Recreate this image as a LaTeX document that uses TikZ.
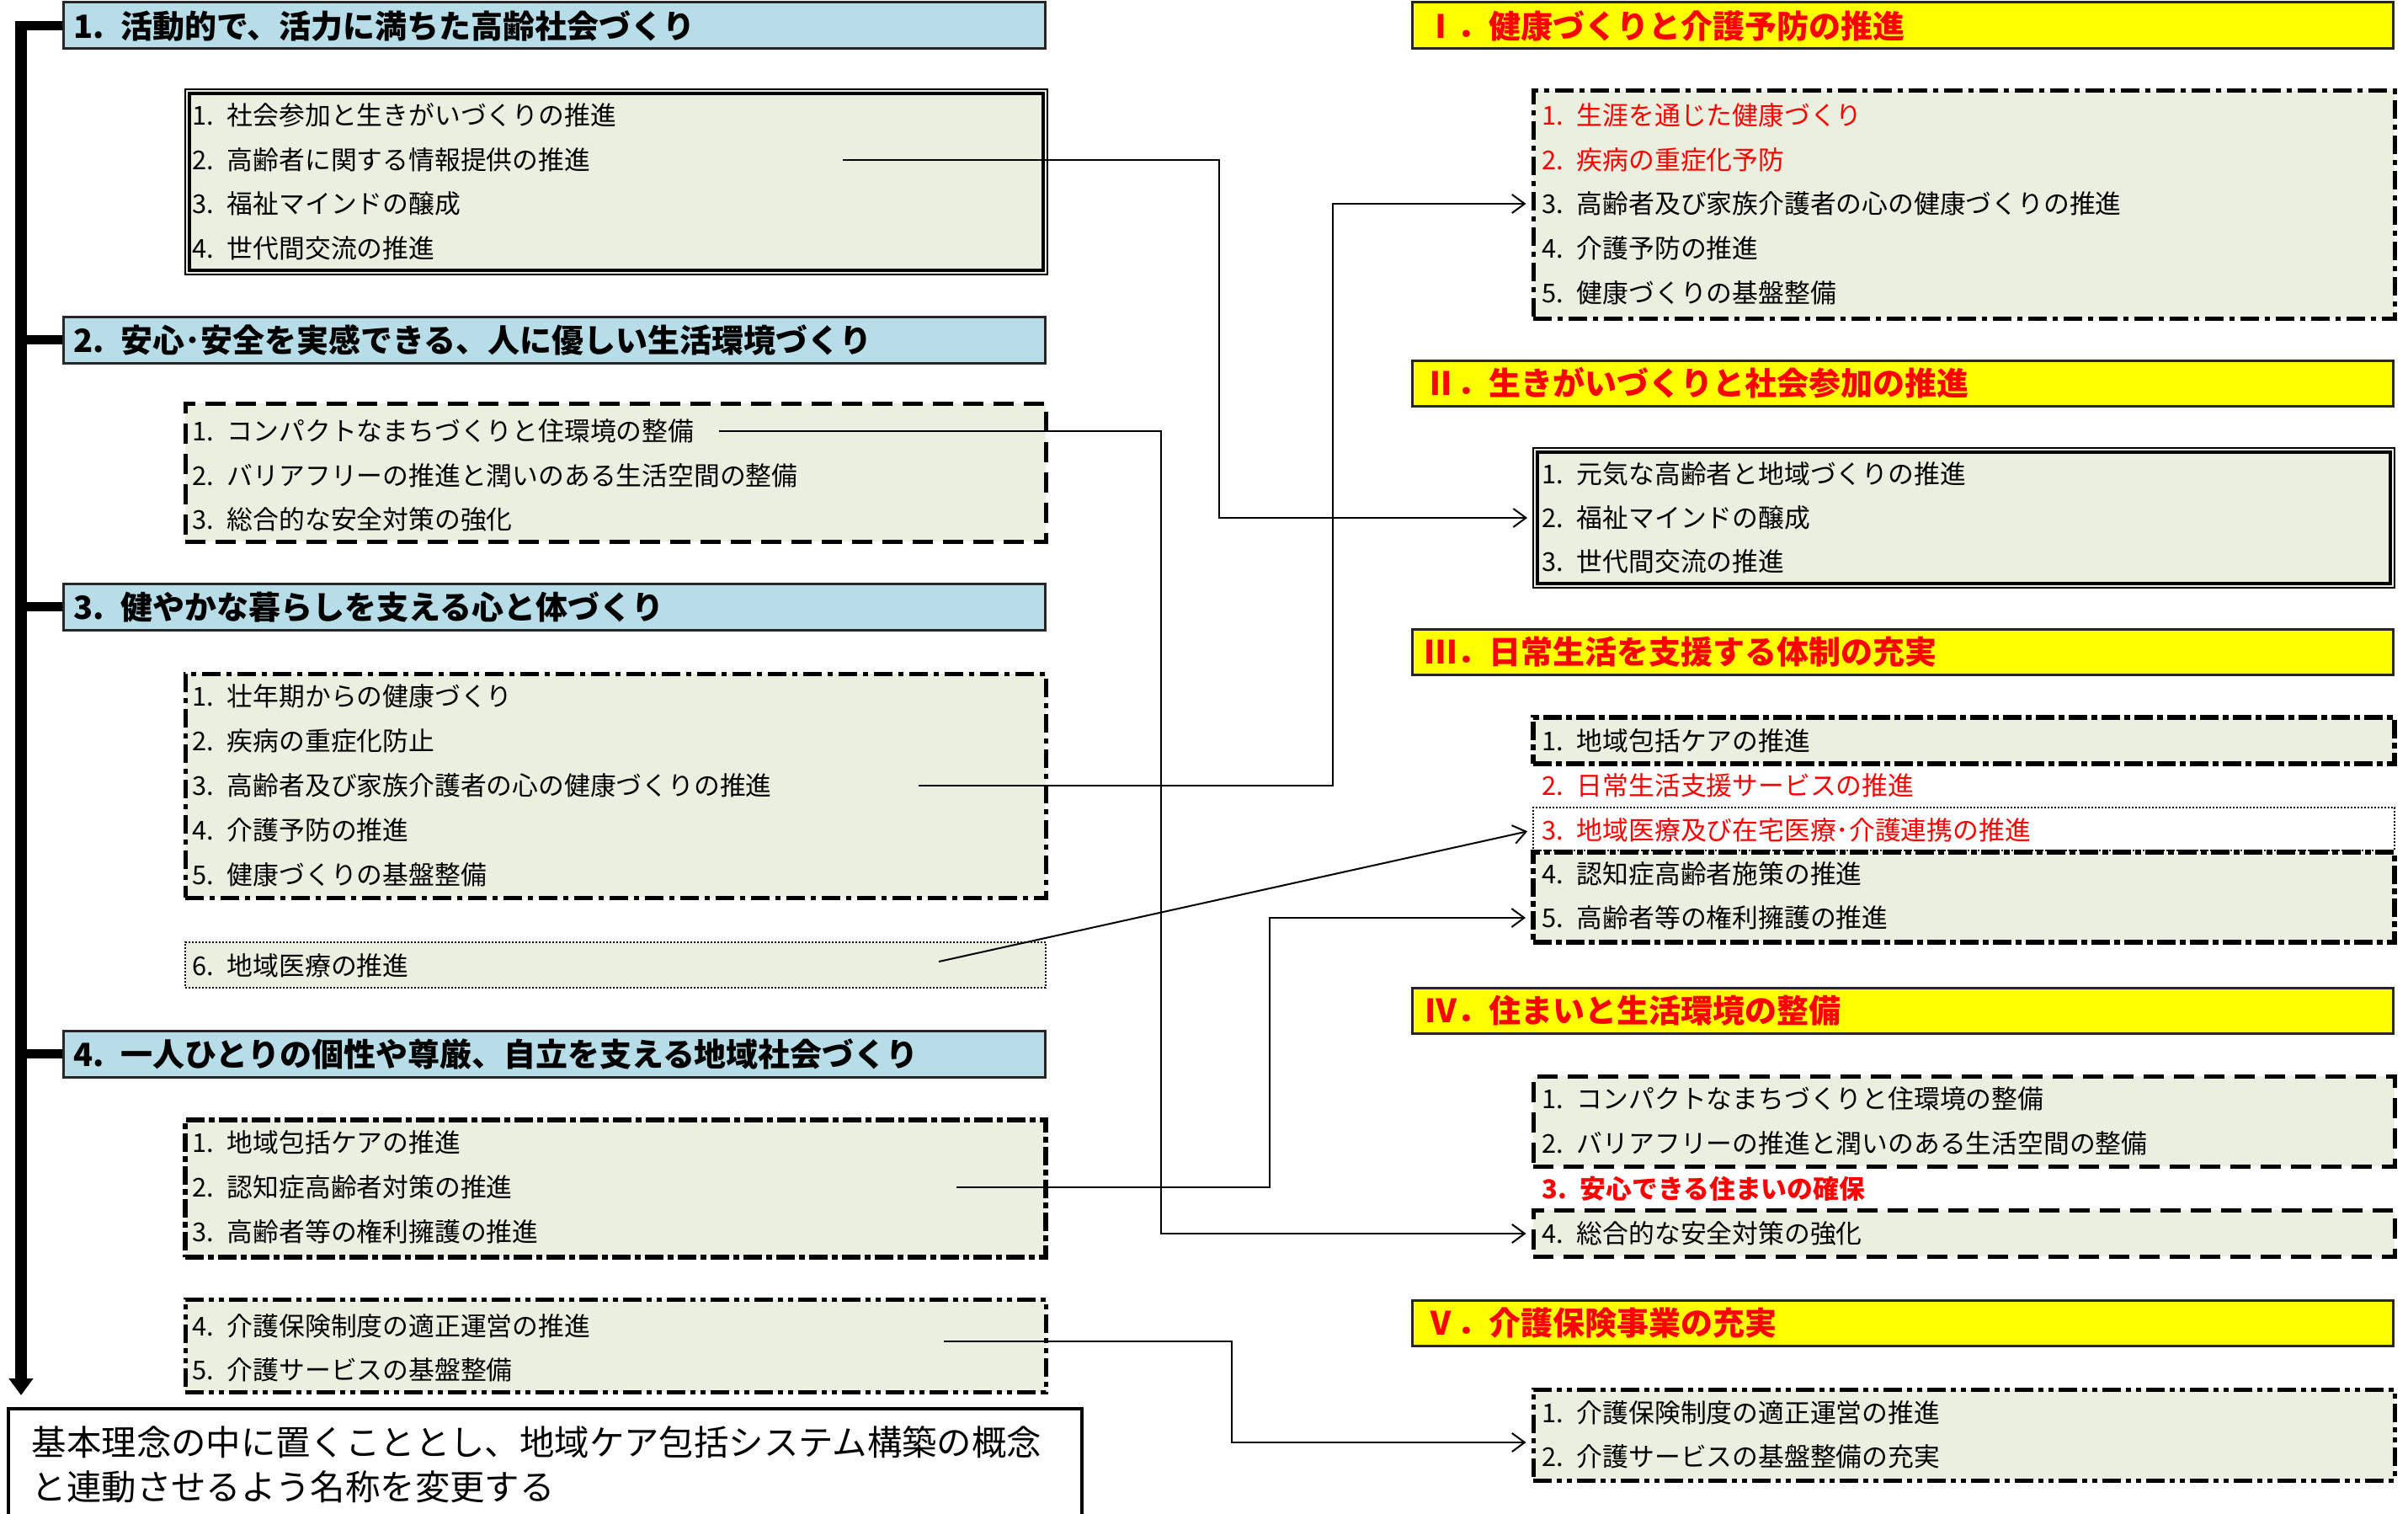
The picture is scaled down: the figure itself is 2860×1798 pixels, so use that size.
\documentclass[tikz,border=0pt]{standalone}
\usepackage{fontspec}
\setmainfont{Noto Sans CJK JP}
\usetikzlibrary{arrows.meta,fit}
\definecolor{hblue}{HTML}{B7DEE8}
\definecolor{hyel}{HTML}{FFFF00}
\definecolor{bfill}{HTML}{EBEFDF}
\definecolor{tred}{HTML}{FF0000}
\newcommand\inum[1]{#1.\enspace}
\tikzset{
  hdrL/.style={draw=black!85, line width=0.75pt, fill=hblue, inner sep=0pt},
  hdrR/.style={draw=black!85, line width=0.75pt, fill=hyel, inner sep=0pt},
  boxbase/.style={fill=bfill, inner sep=0pt, draw=black},
  dblbox/.style={boxbase, line width=0.5pt},
  dshbox/.style={boxbase, line width=1.25pt, dash pattern=on 6pt off 3pt},
  dotdashbox/.style={boxbase, line width=1.25pt, dash pattern=on 5.5pt off 1.75pt on 1.5pt off 1.75pt},
  ddotbox/.style={boxbase, line width=1.25pt, dash pattern=on 5.5pt off 1.5pt on 1.5pt off 1.5pt on 1.5pt off 1.5pt},
  slantbox/.style={boxbase, line width=1.5pt, dash pattern=on 5.5pt off 1.25pt on 1.75pt off 1.25pt},
  dotbox/.style={boxbase, line width=0.5pt, dash pattern=on 0.5pt off 0.5pt},
  itm/.style={anchor=west, inner sep=0pt, font=\fontsize{7.7pt}{9pt}\selectfont},
  itmred/.style={itm, text=tred},
  hdrtxt/.style={anchor=west, inner sep=0pt, font=\fontsize{9.5pt}{11pt}\selectfont\bfseries},
  hdrtxtR/.style={hdrtxt, text=tred},
  bigtxt/.style={anchor=west, inner sep=0pt, font=\fontsize{10.35pt}{13pt}\selectfont},
  conn/.style={line width=0.5pt, -{Straight Barb[length=3.75pt,width=5.5pt]}, shorten >=1.5pt},
  stub/.style={line width=2.75pt},
  innerline/.style={line width=1pt}
}
\begin{document}
\begin{tikzpicture}[x=0.25pt,y=-0.25pt]
\useasboundingbox (0,0) rectangle (2860,1798);
\fill[white] (0,0) rectangle (2860,1798);

% ---------------- left column ----------------
\node[hdrL, fit={(75,3) (1241,58)}] (h1) {};
\node[hdrtxt] (h1t) at (87,31) {\inum{1}活動的で、活力に満ちた高齢社会づくり};
\node[dblbox, fit={(220,106) (1244,326)}] (b1) {};
\draw[innerline] ([shift={(1.6pt,-1.6pt)}]b1.north west) rectangle ([shift={(-1.6pt,1.6pt)}]b1.south east);
\node[itm] (l1i1) at (228,137) {\inum{1}社会参加と生きがいづくりの推進};
\node[itm] (l1i2) at (228,190) {\inum{2}高齢者に関する情報提供の推進};
\node[itm] (l1i3) at (228,242) {\inum{3}福祉マインドの醸成};
\node[itm] (l1i4) at (228,295) {\inum{4}世代間交流の推進};

\node[hdrL, fit={(75,376) (1241,431)}] (h2) {};
\node[hdrtxt] (h2t) at (87,404) {\inum{2}安心･安全を実感できる、人に優しい生活環境づくり};
\node[dshbox, fit={(220,479) (1242,643)}] (b2) {};
\node[itm] (l2i1) at (228,512) {\inum{1}コンパクトなまちづくりと住環境の整備};
\node[itm] (l2i2) at (228,565) {\inum{2}バリアフリーの推進と潤いのある生活空間の整備};
\node[itm] (l2i3) at (228,617) {\inum{3}総合的な安全対策の強化};

\node[hdrL, fit={(75,693) (1241,748)}] (h3) {};
\node[hdrtxt] (h3t) at (87,721) {\inum{3}健やかな暮らしを支える心と体づくり};
\node[dotdashbox, fit={(220,800) (1242,1066)}] (b3) {};
\node[itm] (l3i1) at (228,827) {\inum{1}壮年期からの健康づくり};
\node[itm] (l3i2) at (228,880) {\inum{2}疾病の重症化防止};
\node[itm] (l3i3) at (228,933) {\inum{3}高齢者及び家族介護者の心の健康づくりの推進};
\node[itm] (l3i4) at (228,986) {\inum{4}介護予防の推進};
\node[itm] (l3i5) at (228,1039) {\inum{5}健康づくりの基盤整備};
\node[dotbox, fit={(220,1119) (1242,1173)}] (b3b) {};
\node[itm] (l3i6) at (228,1147) {\inum{6}地域医療の推進};

\node[hdrL, fit={(75,1224) (1241,1279)}] (h4) {};
\node[hdrtxt] (h4t) at (87,1252) {\inum{4}一人ひとりの個性や尊厳、自立を支える地域社会づくり};
\node[slantbox, fit={(220,1330) (1242,1493)}] (b4) {};
\node[itm] (l4i1) at (228,1357) {\inum{1}地域包括ケアの推進};
\node[itm] (l4i2) at (228,1410) {\inum{2}認知症高齢者対策の推進};
\node[itm] (l4i3) at (228,1463) {\inum{3}高齢者等の権利擁護の推進};
\node[ddotbox, fit={(220,1543) (1242,1653)}] (b5) {};
\node[itm] (l5i4) at (228,1575) {\inum{4}介護保険制度の適正運営の推進};
\node[itm] (l5i5) at (228,1627) {\inum{5}介護サービスの基盤整備};

\node[draw=black, line width=1pt, fill=white, inner sep=0pt, fit={(10,1673) (1285,1830)}] (note) {};
\node[bigtxt] (note1) at (37,1713) {基本理念の中に置くこととし、地域ケア包括システム構築の概念};
\node[bigtxt] (note2) at (37,1766) {と連動させるよう名称を変更する};

% spine
\coordinate (vtop) at (25,25);
\coordinate (vbot) at (25,1657);
\draw[line width=3.5pt, -{Triangle[length=5pt,width=7pt]}] (vtop) -- (vbot);
\draw[stub] ([xshift=-1.75pt]vtop |- h1.west) -- (h1.west);
\draw[stub] (vtop |- h2.west) -- (h2.west);
\draw[stub] (vtop |- h3.west) -- (h3.west);
\draw[stub] (vtop |- h4.west) -- (h4.west);

% ---------------- right column ----------------
\node[hdrR, fit={(1677,3) (2842,58)}] (r1) {};
\node[hdrtxtR] (r1t) at (1692,31) {Ⅰ．健康づくりと介護予防の推進};
\node[dotdashbox, fit={(1821,108) (2844,378)}] (rb1) {};
\node[itmred] (r1i1) at (1831,137) {\inum{1}生涯を通じた健康づくり};
\node[itmred] (r1i2) at (1831,190) {\inum{2}疾病の重症化予防};
\node[itm] (r1i3) at (1831,242) {\inum{3}高齢者及び家族介護者の心の健康づくりの推進};
\node[itm] (r1i4) at (1831,295) {\inum{4}介護予防の推進};
\node[itm] (r1i5) at (1831,348) {\inum{5}健康づくりの基盤整備};

\node[hdrR, fit={(1677,428) (2842,482)}] (r2) {};
\node[hdrtxtR] (r2t) at (1692,455) {Ⅱ．生きがいづくりと社会参加の推進};
\node[dblbox, fit={(1821,532) (2844,698)}] (rb2) {};
\draw[innerline] ([shift={(1.6pt,-1.6pt)}]rb2.north west) rectangle ([shift={(-1.6pt,1.6pt)}]rb2.south east);
\node[itm] (r2i1) at (1831,563) {\inum{1}元気な高齢者と地域づくりの推進};
\node[itm] (r2i2) at (1831,615) {\inum{2}福祉マインドの醸成};
\node[itm] (r2i3) at (1831,667) {\inum{3}世代間交流の推進};

\node[hdrR, fit={(1677,747) (2842,801)}] (r3) {};
\node[hdrtxtR] (r3t) at (1692,774) {Ⅲ．日常生活を支援する体制の充実};
\node[slantbox, fit={(1821,852) (2844,907)}] (rb3a) {};
\node[itm] (r3i1) at (1831,880) {\inum{1}地域包括ケアの推進};
\node[itmred] (r3i2) at (1831,933) {\inum{2}日常生活支援サービスの推進};
\node[dotbox, fill=white, fit={(1821,959) (2844,1010)}] (rb3c) {};
\node[itmred] (r3i3) at (1831,986) {\inum{3}地域医療及び在宅医療･介護連携の推進};
\node[slantbox, fit={(1821,1012) (2844,1119)}] (rb3d) {};
\node[itm] (r3i4) at (1831,1038) {\inum{4}認知症高齢者施策の推進};
\node[itm] (r3i5) at (1831,1090) {\inum{5}高齢者等の権利擁護の推進};

\node[hdrR, fit={(1677,1173) (2842,1227)}] (r4) {};
\node[hdrtxtR] (r4t) at (1692,1200) {Ⅳ．住まいと生活環境の整備};
\node[dshbox, fit={(1821,1278) (2844,1385)}] (rb4a) {};
\node[itm] (r4i1) at (1831,1305) {\inum{1}コンパクトなまちづくりと住環境の整備};
\node[itm] (r4i2) at (1831,1358) {\inum{2}バリアフリーの推進と潤いのある生活空間の整備};
\node[itmred, font=\fontsize{7.7pt}{9pt}\selectfont\bfseries] (r4i3) at (1831,1412) {\inum{3}安心できる住まいの確保};
\node[dshbox, fit={(1821,1437) (2844,1492)}] (rb4b) {};
\node[itm] (r4i4) at (1831,1465) {\inum{4}総合的な安全対策の強化};

\node[hdrR, fit={(1677,1544) (2842,1598)}] (r5) {};
\node[hdrtxtR] (r5t) at (1692,1571) {Ⅴ．介護保険事業の充実};
\node[ddotbox, fit={(1821,1650) (2844,1758)}] (rb5) {};
\node[itm] (r5i1) at (1831,1678) {\inum{1}介護保険制度の適正運営の推進};
\node[itm] (r5i2) at (1831,1730) {\inum{2}介護サービスの基盤整備の充実};

% ---------------- connectors ----------------
\coordinate (s1) at (1001,190);
\coordinate (s2) at (854,512);
\coordinate (s3) at (1091,933);
\coordinate (s4) at (1115,1142);
\coordinate (s5) at (1136,1410);
\coordinate (s6) at (1121,1593);
\draw[conn] (s1) -- ++(447,0) |- (rb2.west |- r2i2.west);
\draw[conn] (s2) -- ++(525,0) |- (rb4b.west |- r4i4.west);
\draw[conn] (s3) -- ++(492,0) |- (rb1.west |- r1i3.west);
\draw[conn] (s4) -- (rb3c.west |- r3i3.west);
\draw[conn] (s5) -- ++(372,0) |- (rb3d.west |- r3i5.west);
\draw[conn] (s6) -- ++(342,0) |- ([yshift=-2.25pt]rb5.west);
\end{tikzpicture}
\end{document}
